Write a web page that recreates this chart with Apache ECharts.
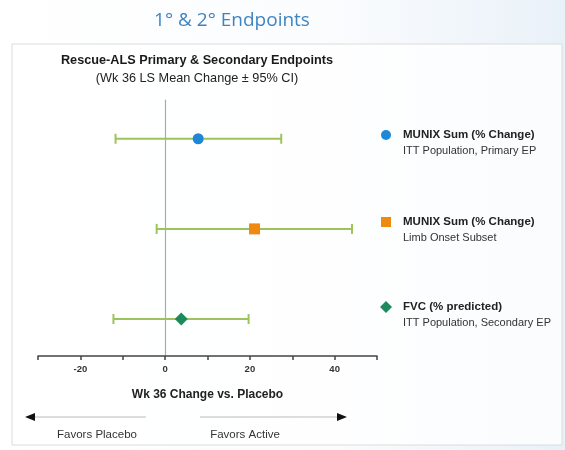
<!DOCTYPE html>
<html>
<head>
<meta charset="utf-8">
<script src="https://cdn.jsdelivr.net/npm/echarts@6/dist/echarts.min.js"></script>
<style>html,body{margin:0;padding:0;}#c{width:565px;height:450px;}</style>
</head>
<body>
<div id="c"></div>
<script>
// ---- data ----
const endpoints = ['MUNIX Sum (% Change)', 'MUNIX Sum (% Change)', 'FVC (% predicted)'];
const populations = ['ITT Population, Primary EP', 'Limb Onset Subset', 'ITT Population, Secondary EP'];
const meanChange = [7.8, 21.1, 3.8];
const ciLower = [-11.7, -2.0, -12.2];
const ciUpper = [27.4, 44.1, 19.7];
const xTickLabels = [-20, 0, 20, 40];
const symbols = ['circle', 'rect', 'diamond'];
const colors = ['#1f87d8', '#f0890f', '#1c8a5a'];

const chart = echarts.init(document.getElementById('c'));
const rows = meanChange.map((v, i) => i + 1);

const pointSeries = meanChange.map((v, i) => ({
  type: 'scatter',
  name: endpoints[i] + ' ' + populations[i],
  data: [[v, rows[i]]],
  symbol: symbols[i],
  symbolSize: i === 2 ? 13 : 11,
  itemStyle: { color: colors[i], opacity: 1 },
  z: 5
}));

const legendGraphics = [];
const legendY = [135, 222, 307];
meanChange.forEach((v, i) => {
  const cx = 386, cy = legendY[i];
  let shape;
  if (i === 0) shape = { type: 'circle', shape: { cx, cy, r: 5 }, style: { fill: colors[i] } };
  else if (i === 1) shape = { type: 'rect', shape: { x: cx - 5, y: cy - 5, width: 10, height: 10 }, style: { fill: colors[i] } };
  else shape = { type: 'polygon', shape: { points: [[cx, cy - 6], [cx + 6, cy], [cx, cy + 6], [cx - 6, cy]] }, style: { fill: colors[i] } };
  legendGraphics.push(shape);
  legendGraphics.push({ type: 'text', x: 403, y: cy, style: { text: endpoints[i], font: 'bold 11.5px "Liberation Sans", Arial, sans-serif', fill: '#222', verticalAlign: 'middle' } });
  legendGraphics.push({ type: 'text', x: 403, y: cy + 16, style: { text: populations[i], font: '11px "Liberation Sans", Arial, sans-serif', fill: '#333', verticalAlign: 'middle' } });
});

chart.setOption({
  backgroundColor: new echarts.graphic.LinearGradient(0, 0, 1, 0, [
    { offset: 0, color: '#ffffff' }, { offset: 0.6, color: '#fafcfe' }, { offset: 1, color: '#e9f1f8' }
  ]),
  animation: false,
  title: [
    { text: '1° & 2° Endpoints', left: 227, top: 6, textAlign: 'center',
      textStyle: { fontFamily: '"Open Sans", sans-serif', fontSize: 19, fontWeight: 'normal', color: '#3f85c4' } },
    { text: 'Rescue-ALS Primary & Secondary Endpoints', subtext: '(Wk 36 LS Mean Change ± 95% CI)',
      left: 192, top: 49, textAlign: 'center', itemGap: 5,
      textStyle: { fontFamily: '"Liberation Sans", Arial, sans-serif', fontSize: 12.7, fontWeight: 'bold', color: '#1a1a1a' },
      subtextStyle: { fontFamily: '"Liberation Sans", Arial, sans-serif', fontSize: 12.7, color: '#222' } }
  ],
  grid: { left: 38, right: 188, top: 100, bottom: 94, containLabel: false },
  xAxis: {
    type: 'value', min: -30, max: 50, interval: 10,
    axisLine: { onZero: false, lineStyle: { color: '#444', width: 1.5 } },
    axisTick: { show: true, length: 4, lineStyle: { color: '#444', width: 1.5 } },
    splitLine: { show: false },
    axisLabel: {
      margin: 8, fontFamily: '"Liberation Sans", Arial, sans-serif', fontSize: 9.5, fontWeight: 'bold', color: '#333',
      formatter: v => xTickLabels.indexOf(v) >= 0 ? String(v) : ''
    },
    name: 'Wk 36 Change vs. Placebo', nameLocation: 'middle', nameGap: 33,
    nameTextStyle: { fontFamily: '"Liberation Sans", Arial, sans-serif', fontSize: 12, fontWeight: 'bold', color: '#222' }
  },
  yAxis: {
    type: 'value', inverse: true, min: 0.57, max: 3.41,
    axisLine: { show: true, onZero: true, lineStyle: { color: '#aaa', width: 1.2 } },
    axisTick: { show: false }, axisLabel: { show: false }, splitLine: { show: false }
  },
  series: [
    {
      type: 'custom',
      name: 'CI',
      data: rows.map((r, i) => [ciLower[i], ciUpper[i], r]),
      encode: { x: [0, 1], y: 2 },
      renderItem: (params, api) => {
        const p1 = api.coord([api.value(0), api.value(2)]);
        const p2 = api.coord([api.value(1), api.value(2)]);
        const h = 5;
        const st = { stroke: '#9fc35c', lineWidth: 2 };
        return {
          type: 'group',
          children: [
            { type: 'line', shape: { x1: p1[0], y1: p1[1], x2: p2[0], y2: p2[1] }, style: st },
            { type: 'line', shape: { x1: p1[0], y1: p1[1] - h, x2: p1[0], y2: p1[1] + h }, style: st },
            { type: 'line', shape: { x1: p2[0], y1: p2[1] - h, x2: p2[0], y2: p2[1] + h }, style: st }
          ]
        };
      },
      z: 3
    },
    ...pointSeries
  ],
  graphic: [
    { type: 'rect', z: -10, shape: { x: 12, y: 44, width: 550, height: 401 },
      style: { fill: 'rgba(255,255,255,0.75)', stroke: '#dcdcdc', lineWidth: 1 } },
    ...legendGraphics,
    { type: 'line', shape: { x1: 32, y1: 417, x2: 146, y2: 417 }, style: { stroke: '#bbb', lineWidth: 1 } },
    { type: 'polygon', shape: { points: [[25, 417], [35, 413], [35, 421]] }, style: { fill: '#111' } },
    { type: 'line', shape: { x1: 200, y1: 417, x2: 340, y2: 417 }, style: { stroke: '#bbb', lineWidth: 1 } },
    { type: 'polygon', shape: { points: [[347, 417], [337, 413], [337, 421]] }, style: { fill: '#111' } },
    { type: 'text', x: 97, y: 435, style: { text: 'Favors Placebo', font: '11.5px "Liberation Sans", Arial, sans-serif', fill: '#333', align: 'center', verticalAlign: 'middle' } },
    { type: 'text', x: 245, y: 435, style: { text: 'Favors Active', font: '11.5px "Liberation Sans", Arial, sans-serif', fill: '#333', align: 'center', verticalAlign: 'middle' } }
  ]
});
</script>
</body>
</html>
